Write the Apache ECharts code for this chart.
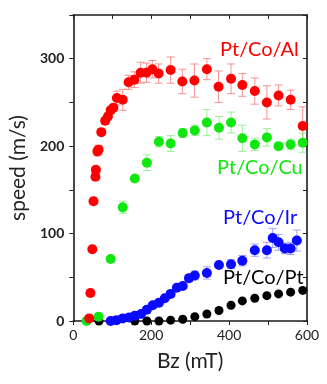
<!DOCTYPE html>
<html>
<head>
<meta charset="utf-8">
<script src="https://cdn.jsdelivr.net/npm/echarts@6/dist/echarts.min.js"></script>
<style>
    html, body { margin: 0; padding: 0; background: #fff; }
    #main { width: 327px; height: 384px; }
</style>
</head>
<body>
<div id="main"></div>
<script>
// Pt/Co/Al
var alX = [41, 44, 49, 52, 57, 58, 62, 65, 72, 82, 89, 96, 103, 112, 127, 142, 157, 173, 188, 203, 219, 250, 280, 311, 343, 373, 405, 434, 466, 497, 527, 558, 589];
var alY = [3, 32, 82, 137, 165, 173, 194, 196, 216, 229, 234, 241, 244, 255, 253, 273, 276, 284, 284, 288, 283, 287, 274, 275, 288, 268, 277, 270, 263, 250, 258, 253, 223];
var alErr = [1, 4, 2, 4, 4, 3, 5, 5, 2, 4, 4, 4, 4, 8, 12, 8, 9, 12, 11, 10, 11, 15, 14, 19, 12, 18, 17, 13, 15, 19, 12, 11, 22];
// Pt/Co/Cu
var cuX = [34, 65, 96, 127, 158, 189, 220, 250, 281, 312, 343, 374, 405, 434, 466, 497, 527, 558, 589];
var cuY = [0, 5, 71, 130, 163, 181, 205, 203, 215, 218, 227, 221, 227, 209, 202, 210, 200, 202, 204];
var cuErr = [0, 1, 0, 7, 1, 9, 6, 9, 5, 6, 15, 13, 12, 15, 7, 10, 3, 6, 11];
// Pt/Co/Ir
var irX = [96, 111, 127, 143, 158, 174, 189, 204, 220, 235, 250, 266, 281, 297, 312, 343, 374, 405, 434, 466, 497, 512, 527, 543, 558, 574];
var irY = [0, 1, 3, 4, 6, 8, 13, 18, 21, 26, 31, 38, 40, 49, 52, 55, 64, 65, 69, 81, 81, 95, 90, 83, 83, 92];
var irErr = [0, 0, 1, 1, 1, 1, 1, 1, 1, 1, 2, 2, 3, 4, 5, 7, 3, 5, 6, 7, 9, 11, 9, 6, 7, 12];
// Pt/Co/Pt
var ptX = [66, 158, 189, 220, 250, 281, 312, 343, 374, 405, 434, 466, 497, 527, 558, 589];
var ptY = [0, 0, 0, 0, 1, 2, 5, 8, 12, 18, 23, 26, 29, 31, 33, 35];

var names = ['Pt/Co/Al', 'Pt/Co/Cu', 'Pt/Co/Ir', 'Pt/Co/Pt'];
var colors = ['#ff0000', '#11e611', '#0a0aff', '#000000'];
var errColors = ['rgba(240,90,90,0.65)', 'rgba(90,230,90,0.6)', 'rgba(110,110,255,0.65)', '#000'];

function points(xs, ys) {
    var res = [];
    for (var i = 0; i < xs.length; i++) {
        res.push([xs[i], ys[i]]);
    }
    return res;
}
function bars(xs, ys, es) {
    var res = [];
    for (var i = 0; i < xs.length; i++) {
        res.push([xs[i], ys[i] - es[i], ys[i] + es[i]]);
    }
    return res;
}

/*误差棒*/
function renderErr(params, api) {
    var top = api.coord([api.value(0), api.value(2)]);
    var bot = api.coord([api.value(0), api.value(1)]);
    var w = 4;
    var style = { stroke: api.visual('color'), lineWidth: 1 };
    return {
        type: 'group',
        children: [
            { type: 'line', shape: { x1: top[0], y1: top[1], x2: bot[0], y2: bot[1] }, style: style },
            { type: 'line', shape: { x1: top[0] - w, y1: top[1], x2: top[0] + w, y2: top[1] }, style: style },
            { type: 'line', shape: { x1: bot[0] - w, y1: bot[1], x2: bot[0] + w, y2: bot[1] }, style: style }
        ]
    };
}

function errSeries(data, idx) {
    return {
        type: 'custom',
        renderItem: renderErr,
        itemStyle: { color: errColors[idx] },
        encode: { x: 0, y: [1, 2] },
        silent: true,
        z: 1,
        data: data
    };
}
function dotSeries(data, idx, size) {
    return {
        name: names[idx],
        type: 'scatter',
        symbolSize: size,
        itemStyle: { color: colors[idx], opacity: 1 },
        z: 3,
        data: data
    };
}

var axisLine = { show: true, onZero: false, lineStyle: { color: '#1a1a1a', width: 1.6 } };
var font = 'Lato, "Open Sans", sans-serif';

var dom = document.getElementById('main');
var myChart = echarts.init(dom);
var option = {
    animation: false,
    grid: { left: 63, right: 20, top: 15, bottom: 63 },
    xAxis: [
        {
            type: 'value', min: 0, max: 600, interval: 100, position: 'bottom',
            name: 'Bz (mT)', nameLocation: 'middle', nameGap: 30,
            nameTextStyle: { fontSize: 21, color: '#222', fontFamily: font },
            axisLine: axisLine,
            axisTick: { show: true, inside: false, length: 4, lineStyle: { color: '#222' } },
            axisLabel: {
                margin: 7, fontSize: 14, color: '#222', fontFamily: font,
                formatter: function (v) { return v % 200 === 0 ? v : ''; }
            },
            splitLine: { show: false }
        },
        {
            type: 'value', min: 0, max: 600, interval: 100, position: 'top',
            axisLine: axisLine,
            axisTick: { show: true, inside: true, length: 4, lineStyle: { color: '#222' } },
            axisLabel: { show: false },
            splitLine: { show: false }
        }
    ],
    yAxis: [
        {
            type: 'value', min: 0, max: 350, interval: 50, position: 'left',
            name: 'speed (m/s)', nameLocation: 'middle', nameGap: 35, nameRotate: 90,
            nameTextStyle: { fontSize: 21, color: '#222', fontFamily: font },
            axisLine: axisLine,
            axisTick: { show: true, inside: false, length: 4, lineStyle: { color: '#222' } },
            axisLabel: {
                margin: 9, fontSize: 14, fontWeight: 'bold', color: '#222', fontFamily: font,
                formatter: function (v) { return v % 100 === 0 ? v : ''; }
            },
            splitLine: { show: false }
        },
        {
            type: 'value', min: 0, max: 350, interval: 50, position: 'right',
            axisLine: axisLine,
            axisTick: { show: true, inside: true, length: 4, lineStyle: { color: '#222' } },
            axisLabel: { show: false },
            splitLine: { show: false }
        }
    ],
    graphic: [
        { type: 'text', left: 220, top: 40, style: { text: names[0], fill: colors[0], font: '20px ' + font } },
        { type: 'text', left: 217, top: 158, style: { text: names[1], fill: colors[1], font: '20px ' + font } },
        { type: 'text', left: 223, top: 208, style: { text: names[2], fill: colors[2], font: '20px ' + font } },
        { type: 'text', left: 223, top: 268, style: { text: names[3], fill: colors[3], font: '20px ' + font } }
    ],
    series: [
        errSeries(bars(alX, alY, alErr), 0),
        errSeries(bars(cuX, cuY, cuErr), 1),
        errSeries(bars(irX, irY, irErr), 2),
        dotSeries(points(ptX, ptY), 3, 9),
        dotSeries(points(irX, irY), 2, 10),
        dotSeries(points(cuX, cuY), 1, 10),
        dotSeries(points(alX, alY), 0, 10)
    ]
};
myChart.setOption(option);
</script>
</body>
</html>
